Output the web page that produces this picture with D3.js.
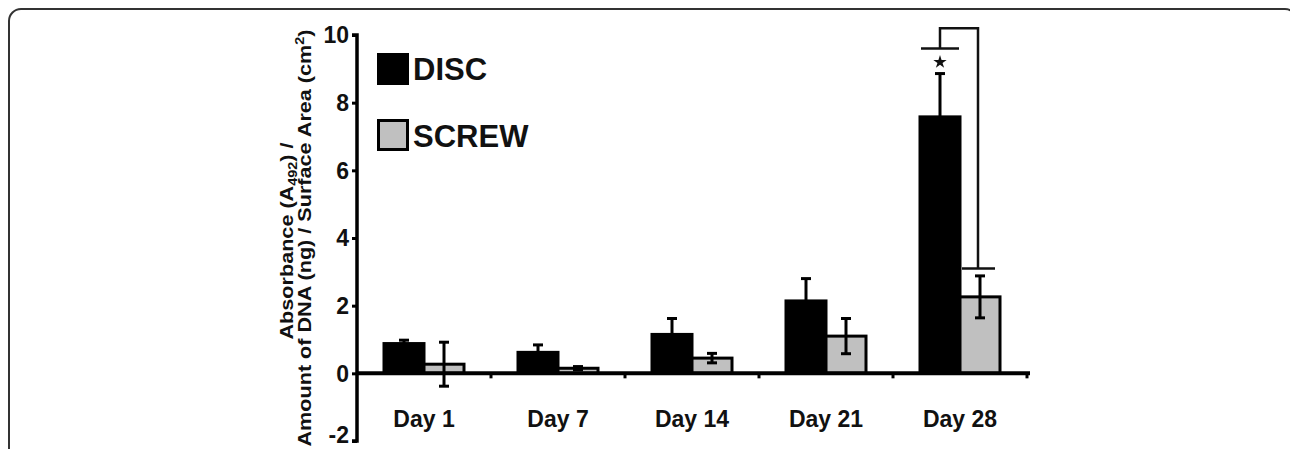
<!DOCTYPE html>
<html>
<head>
<meta charset="utf-8">
<script src="https://cdn.jsdelivr.net/npm/d3@7"></script>
<style>
  body { margin: 0; background: #fff; }
  svg { display: block; font-family: "Liberation Sans", Arial, sans-serif; font-weight: bold; }
</style>
</head>
<body>
<svg width="1290" height="449"></svg>
<script>
var days = ['Day 1', 'Day 7', 'Day 14', 'Day 21', 'Day 28'];
var discMean = [0.88, 0.62, 1.15, 2.14, 7.58];
var discErr = [0.1, 0.22, 0.47, 0.66, 1.28];
var screwMean = [0.27, 0.15, 0.45, 1.1, 2.26];
var screwErr = [0.65, 0.05, 0.14, 0.52, 0.62];
var yTicks = [-2, 0, 2, 4, 6, 8, 10];
var series = ['DISC', 'SCREW'];
var colors = {DISC: '#000', SCREW: '#c0c0c0'};
// significance bracket on Day 28 (data units)
var sigDay = 'Day 28';
var sigLevels = {disc: 9.6, top: 10.2, screw: 3.1, star: 9.2};

var svg = d3.select('svg');

// outer frame
svg.append('rect')
    .attr('x', 9).attr('y', 9)
    .attr('width', 1288).attr('height', 520)
    .attr('rx', 12)
    .attr('fill', 'none')
    .attr('stroke', '#333')
    .attr('stroke-width', 2);

var x = d3.scaleBand().domain(days).range([357, 1027]).padding(0);
var y = d3.scaleLinear().domain([-2, 10]).range([441, 35]);
var barW = 40;

var rows = days.map(function(d, i) {
    return [
        {day: d, key: 'DISC', v: discMean[i], e: discErr[i], x0: x(d) + x.bandwidth() / 2 - barW},
        {day: d, key: 'SCREW', v: screwMean[i], e: screwErr[i], x0: x(d) + x.bandwidth() / 2}
    ];
}).flat();

// bars
svg.append('g').selectAll('rect')
    .data(rows)
    .join('rect')
    .attr('x', d => d.x0)
    .attr('y', d => y(d.v))
    .attr('width', barW)
    .attr('height', d => y(0) - y(d.v))
    .attr('fill', d => colors[d.key])
    .attr('stroke', '#000')
    .attr('stroke-width', 3);

// error bars
var eb = svg.append('g').attr('stroke', '#000').attr('stroke-width', 3);
eb.selectAll('line.v')
    .data(rows)
    .join('line')
    .attr('class', 'v')
    .attr('x1', d => d.x0 + barW / 2).attr('x2', d => d.x0 + barW / 2)
    .attr('y1', d => y(d.v + d.e)).attr('y2', d => y(d.v - d.e));
eb.selectAll('line.top')
    .data(rows)
    .join('line')
    .attr('class', 'top')
    .attr('x1', d => d.x0 + barW / 2 - 5).attr('x2', d => d.x0 + barW / 2 + 5)
    .attr('y1', d => y(d.v + d.e)).attr('y2', d => y(d.v + d.e));
eb.selectAll('line.bot')
    .data(rows)
    .join('line')
    .attr('class', 'bot')
    .attr('x1', d => d.x0 + barW / 2 - 5).attr('x2', d => d.x0 + barW / 2 + 5)
    .attr('y1', d => y(d.v - d.e)).attr('y2', d => y(d.v - d.e));

// y axis
var yAxis = svg.append('g')
    .attr('transform', 'translate(357,0)')
    .call(d3.axisLeft(y).tickValues(yTicks).tickSize(5).tickPadding(3).tickFormat(d => String(d)));
yAxis.select('.domain').attr('stroke-width', 3.5).attr('d', 'M-5,' + y(10) + 'H0V' + y(-2) + 'H-5');
yAxis.selectAll('.tick line').attr('stroke-width', 3);
yAxis.selectAll('.tick text')
    .attr('fill', '#111')
    .attr('dy', d => d === -2 ? '0.08em' : '0.34em')
    .style('font-size', '23px')
    .style('font-weight', 'bold')
    .style('font-family', '"Liberation Sans", Arial, sans-serif');

// x axis (zero line)
svg.append('line')
    .attr('x1', 357).attr('x2', 1030)
    .attr('y1', y(0)).attr('y2', y(0))
    .attr('stroke', '#000').attr('stroke-width', 4);
svg.append('g').selectAll('line')
    .data(days)
    .join('line')
    .attr('x1', d => x(d) + x.bandwidth()).attr('x2', d => x(d) + x.bandwidth())
    .attr('y1', y(0)).attr('y2', y(0) + 5)
    .attr('stroke', '#000').attr('stroke-width', 3);
svg.append('g').selectAll('text')
    .data(days)
    .join('text')
    .attr('x', d => x(d) + x.bandwidth() / 2)
    .attr('y', 427)
    .attr('text-anchor', 'middle')
    .attr('fill', '#111')
    .style('font-size', '23px')
    .text(d => d);

// y axis title
var t1 = svg.append('text')
    .attr('transform', 'translate(293,241) rotate(-90)')
    .attr('text-anchor', 'middle')
    .attr('fill', '#111')
    .style('font-size', '18px')
    .attr('textLength', 197)
    .attr('lengthAdjust', 'spacingAndGlyphs');
t1.append('tspan').text('Absorbance (A');
t1.append('tspan').attr('dy', 4).style('font-size', '12px').text('492');
t1.append('tspan').attr('dy', -4).text(') /');

var t2 = svg.append('text')
    .attr('transform', 'translate(311,238) rotate(-90)')
    .attr('text-anchor', 'middle')
    .attr('fill', '#111')
    .style('font-size', '18px')
    .attr('textLength', 417)
    .attr('lengthAdjust', 'spacingAndGlyphs');
t2.append('tspan').text('Amount of DNA (ng) / Surface Area (cm');
t2.append('tspan').attr('dy', -7).style('font-size', '12px').text('2');
t2.append('tspan').attr('dy', 7).text(')');

// legend
var legend = svg.append('g').attr('transform', 'translate(377,53)');
legend.selectAll('rect')
    .data(series)
    .join('rect')
    .attr('x', 1.5)
    .attr('y', (d, i) => 1.5 + i * 66)
    .attr('width', 29).attr('height', 29)
    .attr('fill', d => colors[d])
    .attr('stroke', '#000').attr('stroke-width', 3);
legend.selectAll('text')
    .data(series)
    .join('text')
    .attr('x', 36)
    .attr('y', (d, i) => 27 + i * 67)
    .attr('fill', '#111')
    .style('font-size', '31px')
    .text(d => d);

// significance bracket
var cx = x(sigDay) + x.bandwidth() / 2;
var sig = svg.append('g').attr('fill', 'none').attr('stroke', '#111').attr('stroke-width', 2.5);
sig.append('line')
    .attr('x1', cx - barW + 1).attr('x2', cx - 1)
    .attr('y1', y(sigLevels.disc)).attr('y2', y(sigLevels.disc));
sig.append('path')
    .attr('d', 'M' + (cx - barW / 2) + ',' + y(sigLevels.disc) +
        'V' + y(sigLevels.top) + 'H' + (cx + barW / 2 - 2) + 'V' + y(sigLevels.screw));
sig.append('line')
    .attr('x1', cx + 2).attr('x2', cx + barW - 5)
    .attr('y1', y(sigLevels.screw)).attr('y2', y(sigLevels.screw));
svg.append('path')
    .attr('d', d3.symbol(d3.symbolStar, 55)())
    .attr('transform', 'translate(' + (cx - barW / 2) + ',' + y(sigLevels.star) + ')')
    .attr('fill', '#111');
</script>
</body>
</html>
